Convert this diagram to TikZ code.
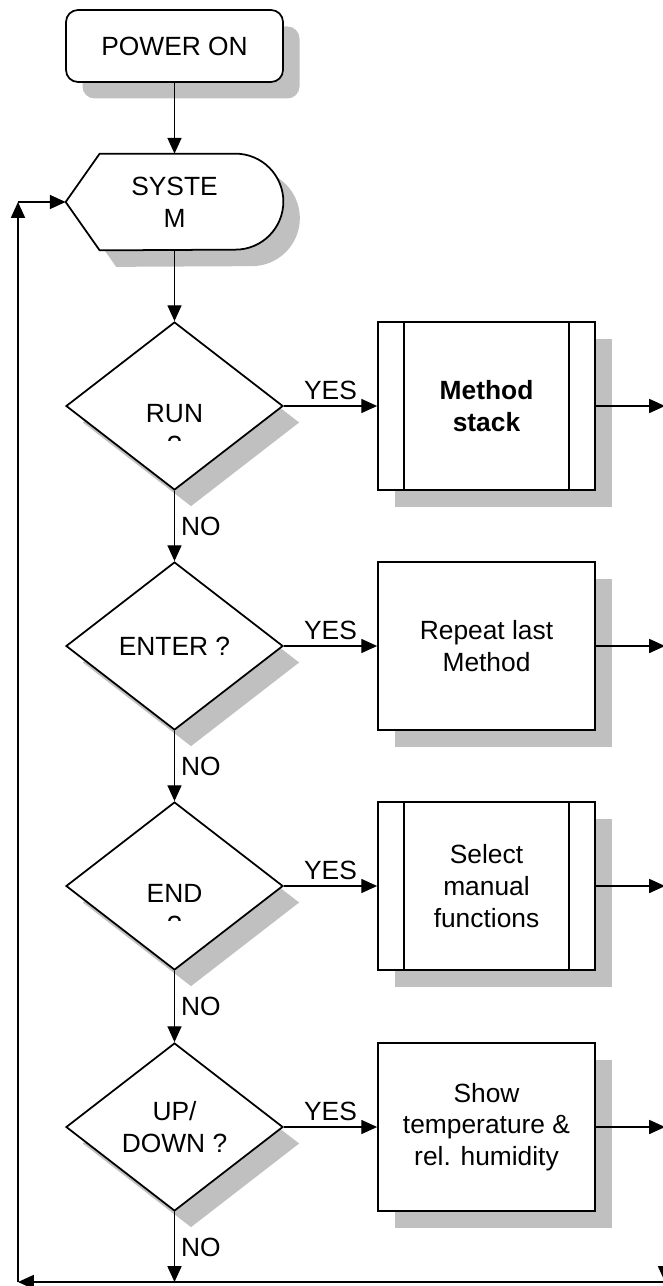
\documentclass[tikz,border=0pt]{standalone}
\usepackage{fontspec}
\setmainfont{Liberation Sans}
\usepackage{tikz}
\usetikzlibrary{positioning, arrows.meta, shapes.geometric, shadows, backgrounds}
\usepackage{xcolor}
\definecolor{shadowgray}{RGB}{192,192,192}
\newcommand{\flowfont}{\fontsize{15}{18}\selectfont}

\begin{document}
\begin{tikzpicture}[
    font=\flowfont,
    boxshadow/.style={drop shadow={shadow xshift=0.33cm, shadow yshift=-0.33cm, fill=shadowgray, opacity=1}},
    terminal/.style={rectangle, rounded corners=0.24cm, draw, line width=1pt, fill=white, minimum width=4.34cm, minimum height=1.44cm, boxshadow},
    decision/.style={diamond, draw, line width=1pt, fill=white, minimum width=4.34cm, minimum height=3.36cm, aspect=1.3, inner sep=0pt, align=center, boxshadow},
    process/.style={rectangle, draw, line width=1pt, fill=white, minimum width=4.34cm, minimum height=3.36cm, align=center, boxshadow},
    bar/.style={line width=1pt},
    arr/.style={-{Triangle[length=9pt, width=8pt]}, line width=0.75pt}
]
\useasboundingbox (0,0) rectangle (13.26,-25.72);
\clip (0,0) rectangle (13.26,-25.72);

% Start and system state
\node[terminal] (pwr) at (3.49,-0.92) {POWER ON};
\node[minimum width=4.34cm, minimum height=1.92cm, inner sep=0pt, align=center] (sys) at (3.49,-4.04) {SYSTE\\M};
\begin{scope}[on background layer]
    \draw[line width=1pt, fill=white, boxshadow] (sys.west) -- ([xshift=0.68cm]sys.north west)
        -- ([xshift=-0.96cm]sys.north east) arc[start angle=90, end angle=-90, radius=0.96cm]
        -- ([xshift=0.68cm]sys.south west) -- cycle;
\end{scope}

% Decisions
\node[decision] (run) at (3.49,-8.12) {};
\node[anchor=base] (runT) at (3.49,-8.44) {RUN};
\begin{scope}
    \clip (1.32,-8.0) rectangle (5.66,-8.80);
    \node[anchor=base] (runQ) at (3.49,-9.08) {?};
\end{scope}
\node[decision] (ent) at (3.49,-12.92) {ENTER ?};
\node[decision] (end) at (3.49,-17.72) {};
\node[anchor=base] (endT) at (3.49,-18.04) {END};
\begin{scope}
    \clip (1.32,-17.6) rectangle (5.66,-18.40);
    \node[anchor=base] (endQ) at (3.49,-18.68) {?};
\end{scope}
\node[decision] (upd) at (3.49,-22.54) {UP/\\DOWN ?};

% Actions
\node[process, font=\flowfont\bfseries] (stack) at (9.73,-8.12) {Method\\stack};
\draw[bar] ([xshift=0.54cm]stack.north west) -- ([xshift=0.54cm]stack.south west);
\draw[bar] ([xshift=-0.54cm]stack.north east) -- ([xshift=-0.54cm]stack.south east);
\node[process] (rep) at (9.73,-12.92) {Repeat last\\Method};
\node[process] (man) at (9.73,-17.72) {Select\\manual\\functions};
\draw[bar] ([xshift=0.54cm]man.north west) -- ([xshift=0.54cm]man.south west);
\draw[bar] ([xshift=-0.54cm]man.north east) -- ([xshift=-0.54cm]man.south east);
\node[process] (temp) at (9.73,-22.54) {Show\\temperature \&\\rel. humidity};

% Loop corners
\coordinate (r1) at (13.30,-8.12);
\coordinate (r2) at (13.30,-12.92);
\coordinate (r3) at (13.30,-17.72);
\coordinate (r4) at (13.30,-22.54);
\coordinate (rb) at (13.30,-25.64);
\coordinate (nb) at (3.49,-25.64);
\coordinate (lb) at (0.36,-25.64);
\coordinate (lt) at (0.36,-4.04);

% Main flow
\draw[arr] (pwr.south) -- (sys.north);
\draw[arr] (sys.south) -- (run.north);
\draw[arr] (run.south) -- node[right] {NO} (ent.north);
\draw[arr] (ent.south) -- node[right] {NO} (end.north);
\draw[arr] (end.south) -- node[right] {NO} (upd.north);
\draw[arr] (upd.south) -- node[right] {NO} (nb);

% Branches
\draw[arr] (run.east) -- node[above] {YES} (stack.west);
\draw[arr] (ent.east) -- node[above] {YES} (rep.west);
\draw[arr] (end.east) -- node[above] {YES} (man.west);
\draw[arr] (upd.east) -- node[above] {YES} (temp.west);
\draw[arr] (stack.east) -- (r1);
\draw[arr] (rep.east) -- (r2);
\draw[arr] (man.east) -- (r3);
\draw[arr] (temp.east) -- (r4);

% Return loop
\draw[arr] (r1) -- (rb);
\draw[arr] (rb) -- (lb);
\draw[arr] (lb) -- (lt);
\draw[arr] (lt) -- (sys.west);
\end{tikzpicture}
\end{document}
